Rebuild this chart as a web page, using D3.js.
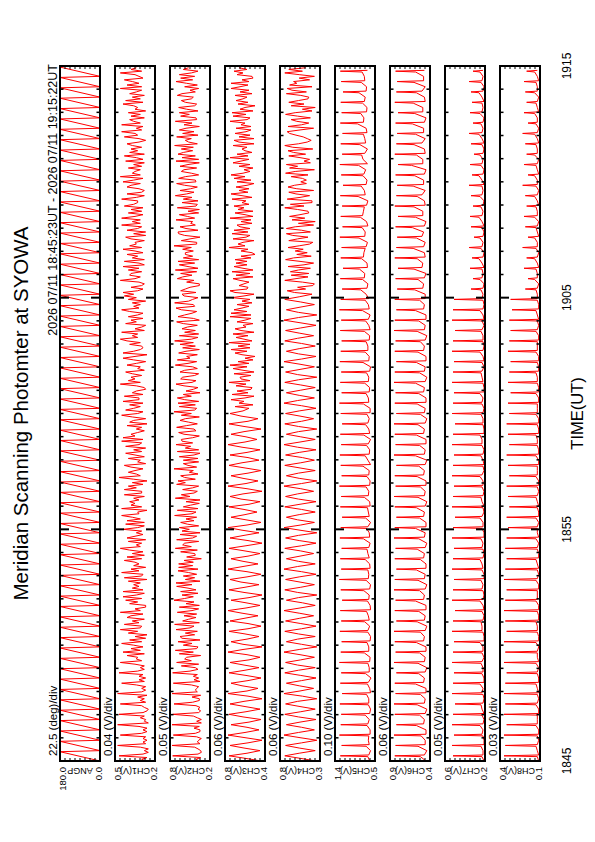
<!DOCTYPE html>
<html><head><meta charset="utf-8">
<script src="https://cdn.jsdelivr.net/npm/d3@7"></script>
<style>body{margin:0;background:#fff}svg{display:block}text{font-family:"Liberation Sans",Arial,sans-serif}</style>
</head><body><svg id="c" width="595" height="842"></svg>
<script>
// ---------- data ----------
const titleText = "Meridian Scanning Photomter at SYOWA";
const rangeText = "2026 07/11 18:45:23UT - 2026 07/11 19:15:22UT";
const timeTickLabels = ["1845", "1855", "1905", "1915"];
const timeTickMinutes = [0, 10, 20, 30];
const panelNames = ["ANGP", "CH1(V)", "CH2(V)", "CH3(V)", "CH4(V)", "CH5(V)", "CH6(V)", "CH7(V)", "CH8(V)"];
const divLabels = ["22.5 (deg)/div", "0.04 (V)/div", "0.05 (V)/div", "0.06 (V)/div", "0.06 (V)/div", "0.10 (V)/div", "0.06 (V)/div", "0.05 (V)/div", "0.03 (V)/div"];
const yTopLabels = ["180.0", "0.5", "0.8", "0.8", "0.8", "1.4", "0.9", "0.6", "0.4"];
const yBottomLabels = ["0.0", "0.2", "0.2", "0.4", "0.3", "0.5", "0.4", "0.2", "0.1"];
const yMax = [180, 0.5, 0.8, 0.8, 0.8, 1.4, 0.9, 0.6, 0.4];
const yMin = [0, 0.2, 0.2, 0.4, 0.3, 0.5, 0.4, 0.2, 0.1];

const scanCount = 67;                        // scans in 30 minutes
const angpScan = [0, 45, 90, 135, 180];      // scan angle samples within one scan (deg), then fly-back
const spikeOffsets = [0, 0.42, 0.5, 0.58];

// one row per scan, samples evenly spaced within the scan
const ch1 = [[0.27,0.30,0.26,0.47,0.29,0.25],[0.28,0.25,0.31,0.48,0.27,0.29],[0.26,0.29,0.27,0.46,0.30,0.26],[0.29,0.26,0.32,0.48,0.25,0.28],[0.27,0.31,0.28,0.47,0.29,0.26],
[0.25,0.28,0.30,0.46,0.27,0.31],[0.28,0.33,0.26,0.48,0.30,0.27],[0.30,0.27,0.34,0.45,0.28,0.32],[0.27,0.32,0.29,0.47,0.33,0.28],[0.31,0.28,0.35,0.46,0.30,0.34],
[0.33,0.41,0.28,0.44,0.31,0.38],[0.29,0.36,0.45,0.30,0.39,0.27],[0.35,0.26,0.40,0.33,0.46,0.31],[0.30,0.43,0.32,0.37,0.28,0.41],[0.38,0.29,0.46,0.31,0.35,0.27],
[0.27,0.39,0.33,0.42,0.30,0.44],[0.34,0.28,0.44,0.29,0.37,0.32],[0.36,0.31,0.40,0.26,0.43,0.30],[0.29,0.45,0.32,0.38,0.27,0.36],[0.32,0.35,0.43,0.30,0.41,0.28],
[0.37,0.29,0.39,0.46,0.31,0.34],[0.30,0.40,0.27,0.41,0.35,0.29],[0.34,0.30,0.44,0.33,0.28,0.42],[0.28,0.41,0.31,0.37,0.45,0.32],[0.33,0.26,0.45,0.30,0.38,0.35],
[0.39,0.32,0.36,0.28,0.43,0.30],[0.30,0.43,0.34,0.40,0.29,0.37],[0.26,0.36,0.47,0.31,0.34,0.40],[0.35,0.29,0.38,0.43,0.27,0.33],[0.31,0.40,0.28,0.35,0.42,0.30],
[0.36,0.27,0.42,0.32,0.30,0.45],[0.29,0.44,0.35,0.38,0.33,0.28],[0.34,0.30,0.41,0.26,0.39,0.36],[0.27,0.37,0.45,0.33,0.29,0.42],[0.36,0.31,0.39,0.29,0.44,0.32],
[0.32,0.43,0.29,0.37,0.34,0.27],[0.28,0.34,0.46,0.31,0.40,0.35],[0.38,0.30,0.37,0.42,0.28,0.33],[0.31,0.41,0.34,0.27,0.36,0.44],[0.35,0.26,0.44,0.36,0.31,0.29],
[0.30,0.39,0.31,0.41,0.46,0.33],[0.37,0.33,0.45,0.28,0.35,0.30],[0.27,0.42,0.34,0.38,0.29,0.40],[0.33,0.29,0.39,0.45,0.32,0.36],[0.31,0.37,0.27,0.40,0.34,0.43],
[0.36,0.44,0.33,0.29,0.38,0.30],[0.28,0.32,0.46,0.35,0.31,0.39],[0.38,0.30,0.40,0.32,0.44,0.28],[0.32,0.43,0.28,0.37,0.33,0.41],[0.29,0.35,0.44,0.30,0.39,0.34],
[0.35,0.28,0.38,0.42,0.27,0.36],[0.27,0.41,0.33,0.30,0.45,0.31],[0.37,0.31,0.45,0.35,0.29,0.40],[0.30,0.38,0.29,0.43,0.36,0.33],[0.33,0.45,0.34,0.28,0.41,0.30],
[0.28,0.32,0.41,0.38,0.31,0.44],[0.36,0.29,0.46,0.31,0.37,0.35],[0.31,0.40,0.30,0.36,0.28,0.42],[0.29,0.34,0.43,0.28,0.39,0.33],[0.38,0.30,0.37,0.41,0.32,0.27],
[0.32,0.43,0.33,0.35,0.45,0.30],[0.34,0.29,0.45,0.31,0.36,0.39],[0.28,0.38,0.31,0.40,0.27,0.35],[0.33,0.36,0.44,0.29,0.42,0.31],[0.37,0.28,0.39,0.34,0.30,0.46],
[0.30,0.41,0.32,0.37,0.43,0.29],[0.32,0.35,0.46,0.30,0.38,0.34]];

const ch2 = [[0.36,0.41,0.34,0.76,0.38,0.33],[0.34,0.38,0.43,0.77,0.35,0.39],[0.37,0.33,0.40,0.75,0.42,0.35],[0.35,0.44,0.36,0.77,0.33,0.40],[0.33,0.39,0.45,0.76,0.37,0.34],
[0.38,0.35,0.41,0.74,0.46,0.36],[0.36,0.47,0.34,0.77,0.39,0.42],[0.40,0.37,0.48,0.75,0.35,0.44],[0.37,0.45,0.39,0.76,0.50,0.38],
[0.42,0.63,0.37,0.70,0.48,0.58],[0.55,0.34,0.66,0.45,0.72,0.40],[0.38,0.60,0.47,0.68,0.35,0.62],[0.65,0.43,0.57,0.39,0.71,0.50],[0.44,0.73,0.36,0.61,0.52,0.41],
[0.59,0.40,0.69,0.47,0.37,0.66],[0.36,0.56,0.44,0.74,0.58,0.45],[0.62,0.38,0.64,0.41,0.53,0.70],[0.47,0.71,0.35,0.57,0.43,0.60],[0.40,0.52,0.68,0.38,0.67,0.46],
[0.67,0.45,0.59,0.33,0.55,0.42],[0.43,0.64,0.39,0.72,0.48,0.61],[0.58,0.37,0.70,0.46,0.40,0.65],[0.35,0.62,0.51,0.66,0.37,0.54],[0.64,0.44,0.56,0.40,0.73,0.47],
[0.41,0.69,0.38,0.60,0.49,0.36],[0.56,0.35,0.72,0.50,0.63,0.44],[0.39,0.61,0.46,0.37,0.70,0.57],[0.68,0.42,0.58,0.64,0.38,0.51],[0.45,0.74,0.40,0.53,0.60,0.37],
[0.60,0.38,0.66,0.44,0.35,0.69],[0.37,0.57,0.49,0.71,0.46,0.62],[0.63,0.46,0.36,0.59,0.67,0.41],[0.44,0.70,0.55,0.39,0.52,0.65],[0.57,0.36,0.63,0.48,0.74,0.43],
[0.40,0.66,0.42,0.68,0.37,0.58],[0.69,0.48,0.60,0.35,0.56,0.45],[0.38,0.59,0.71,0.47,0.41,0.64],[0.61,0.43,0.37,0.65,0.58,0.39],[0.46,0.72,0.53,0.40,0.69,0.50],
[0.55,0.39,0.67,0.56,0.36,0.61],[0.42,0.65,0.45,0.73,0.48,0.38],[0.66,0.37,0.58,0.42,0.62,0.54],[0.39,0.60,0.70,0.36,0.45,0.68],[0.58,0.47,0.40,0.63,0.71,0.43],
[0.45,0.73,0.52,0.46,0.38,0.59],[0.62,0.41,0.64,0.57,0.50,0.36],[0.36,0.55,0.44,0.69,0.61,0.47],[0.64,0.40,0.72,0.38,0.53,0.66],[0.43,0.68,0.37,0.60,0.46,0.57],
[0.57,0.45,0.61,0.48,0.74,0.40],[0.40,0.63,0.50,0.35,0.58,0.67],[0.68,0.38,0.56,0.65,0.42,0.49],[0.46,0.71,0.43,0.54,0.66,0.37],[0.53,0.36,0.69,0.41,0.39,0.62],
[0.38,0.60,0.47,0.72,0.55,0.44],[0.65,0.49,0.39,0.58,0.70,0.41],[0.42,0.67,0.57,0.37,0.48,0.63],[0.59,0.40,0.65,0.53,0.36,0.71],[0.37,0.62,0.42,0.68,0.60,0.46],
[0.63,0.45,0.73,0.39,0.52,0.57],[0.48,0.70,0.38,0.61,0.44,0.66],[0.56,0.36,0.59,0.47,0.72,0.40],[0.41,0.64,0.51,0.66,0.38,0.55],[0.67,0.43,0.40,0.57,0.63,0.48],
[0.45,0.69,0.62,0.42,0.50,0.37],[0.58,0.39,0.55,0.71,0.46,0.64],[0.43,0.66,0.48,0.38,0.60,0.52]];

const ch3 = [[0.44,0.59,0.76,0.58],[0.45,0.61,0.75,0.57],[0.43,0.60,0.77,0.60],[0.46,0.58,0.74,0.56],[0.44,0.62,0.76,0.59],[0.45,0.60,0.75,0.61],[0.43,0.57,0.77,0.58],[0.47,0.63,0.74,0.57],[0.44,0.59,0.76,0.60],[0.46,0.61,0.75,0.56],
[0.45,0.58,0.77,0.62],[0.43,0.62,0.74,0.58],[0.46,0.60,0.76,0.57],[0.44,0.57,0.75,0.61],[0.47,0.63,0.77,0.59],[0.45,0.59,0.74,0.56],[0.43,0.61,0.76,0.60],[0.46,0.64,0.75,0.58],[0.44,0.58,0.77,0.62],[0.47,0.62,0.74,0.57],
[0.45,0.60,0.76,0.59],[0.43,0.57,0.75,0.61],[0.46,0.63,0.77,0.58],[0.44,0.59,0.74,0.60],[0.48,0.61,0.76,0.56],[0.45,0.64,0.75,0.62],[0.43,0.58,0.77,0.59],[0.47,0.62,0.74,0.57],[0.44,0.60,0.76,0.63],[0.46,0.57,0.75,0.58],
[0.45,0.63,0.77,0.60],[0.48,0.59,0.74,0.61],[0.44,0.61,0.76,0.57],[0.47,0.64,0.75,0.62],
[0.56,0.70,0.52,0.66,0.61,0.74],[0.60,0.51,0.73,0.57,0.68,0.54],[0.53,0.69,0.59,0.76,0.55,0.64],[0.65,0.54,0.71,0.51,0.62,0.72],[0.58,0.75,0.56,0.67,0.52,0.60],
[0.50,0.63,0.70,0.58,0.74,0.55],[0.67,0.55,0.76,0.53,0.61,0.69],[0.57,0.72,0.51,0.64,0.70,0.59],[0.62,0.52,0.68,0.60,0.54,0.75],[0.54,0.74,0.58,0.71,0.63,0.56],
[0.68,0.53,0.63,0.55,0.73,0.61],[0.51,0.70,0.75,0.58,0.57,0.66],[0.61,0.56,0.65,0.72,0.52,0.69],[0.55,0.73,0.52,0.62,0.71,0.58],[0.69,0.58,0.70,0.54,0.64,0.50],
[0.53,0.64,0.57,0.76,0.60,0.67],[0.62,0.51,0.72,0.59,0.55,0.73],[0.57,0.71,0.55,0.65,0.68,0.53],[0.64,0.54,0.75,0.52,0.60,0.70],[0.52,0.67,0.61,0.71,0.56,0.63],
[0.59,0.73,0.53,0.63,0.74,0.57],[0.66,0.56,0.69,0.58,0.51,0.68],[0.54,0.71,0.60,0.74,0.62,0.55],[0.61,0.52,0.66,0.55,0.72,0.64],[0.56,0.75,0.57,0.68,0.53,0.60],
[0.63,0.58,0.72,0.51,0.66,0.71],[0.51,0.66,0.55,0.70,0.59,0.54],[0.69,0.54,0.64,0.60,0.75,0.58],[0.55,0.72,0.59,0.73,0.52,0.65],[0.60,0.50,0.67,0.57,0.69,0.62],
[0.58,0.70,0.53,0.65,0.56,0.74],[0.65,0.57,0.74,0.56,0.63,0.52],[0.53,0.68,0.62,0.71,0.58,0.66]];

const ch4 = [[0.35,0.54,0.74,0.56],[0.36,0.56,0.73,0.53],[0.34,0.55,0.75,0.57],[0.37,0.53,0.72,0.55],[0.35,0.57,0.74,0.54],[0.36,0.55,0.73,0.58],[0.34,0.52,0.75,0.55],[0.38,0.56,0.72,0.53],[0.35,0.54,0.74,0.57],[0.36,0.58,0.73,0.54],
[0.37,0.55,0.75,0.56],[0.34,0.53,0.72,0.58],[0.36,0.57,0.74,0.53],[0.35,0.54,0.73,0.56],[0.38,0.56,0.75,0.55],[0.36,0.52,0.72,0.57],[0.34,0.58,0.74,0.54],[0.37,0.55,0.73,0.56],[0.35,0.53,0.75,0.58],[0.36,0.57,0.72,0.55],
[0.38,0.54,0.74,0.53],[0.35,0.56,0.73,0.57],[0.34,0.55,0.75,0.54],[0.37,0.58,0.72,0.56],[0.36,0.53,0.74,0.55],[0.35,0.57,0.73,0.58],[0.38,0.54,0.75,0.53],[0.34,0.56,0.72,0.57],[0.36,0.55,0.74,0.54],[0.37,0.52,0.73,0.56],
[0.35,0.58,0.75,0.55],[0.36,0.54,0.72,0.57],[0.34,0.57,0.74,0.53],[0.38,0.55,0.73,0.56],[0.35,0.53,0.75,0.58],[0.37,0.56,0.72,0.54],[0.36,0.54,0.74,0.57],[0.34,0.58,0.73,0.55],[0.37,0.55,0.75,0.53],[0.35,0.57,0.72,0.56],
[0.36,0.53,0.74,0.58],[0.38,0.56,0.73,0.54],[0.35,0.55,0.75,0.57],[0.34,0.57,0.72,0.55],[0.37,0.54,0.74,0.56],
[0.40,0.62,0.71,0.48,0.58,0.39],[0.37,0.52,0.74,0.60,0.45,0.66],[0.44,0.67,0.57,0.42,0.70,0.50],[0.38,0.55,0.73,0.63,0.41,0.59],[0.46,0.61,0.51,0.70,0.56,0.43],
[0.39,0.69,0.58,0.45,0.64,0.72],[0.42,0.53,0.72,0.61,0.38,0.57],[0.36,0.65,0.49,0.68,0.55,0.44],[0.45,0.58,0.74,0.50,0.67,0.40],[0.40,0.71,0.55,0.43,0.60,0.69],
[0.38,0.59,0.70,0.62,0.47,0.54],[0.47,0.52,0.66,0.45,0.73,0.61],[0.37,0.68,0.58,0.72,0.42,0.50],[0.43,0.55,0.69,0.48,0.63,0.70],[0.39,0.64,0.74,0.57,0.46,0.41],
[0.46,0.51,0.60,0.68,0.71,0.55],[0.38,0.70,0.53,0.44,0.59,0.66],[0.42,0.58,0.73,0.61,0.40,0.52],[0.36,0.66,0.50,0.69,0.57,0.45],[0.44,0.54,0.72,0.47,0.65,0.71],
[0.40,0.68,0.59,0.63,0.43,0.56],[0.37,0.56,0.74,0.52,0.69,0.48]];

// spike channels: [before, rise, peak, after] per scan
const ch5 = [[0.62,0.66,1.28,0.64],[0.60,0.70,1.25,0.63],[0.65,0.64,1.30,0.61],[0.61,0.68,1.27,0.66],[0.63,0.72,1.26,0.62],[0.60,0.65,1.29,0.64],[0.64,0.69,1.24,0.60],[0.62,0.67,1.28,0.65],[0.59,0.71,1.26,0.63],[0.63,0.66,1.30,0.62],
[0.61,0.74,1.27,0.64],[0.64,0.68,1.25,0.61],[0.60,0.66,1.29,0.66],[0.62,0.73,1.26,0.63],[0.65,0.69,1.28,0.60],[0.61,0.67,1.24,0.64],[0.63,0.75,1.27,0.62],[0.60,0.70,1.30,0.65],[0.64,0.66,1.26,0.61],[0.62,0.72,1.28,0.63],
[0.66,0.68,1.25,0.64],[0.61,0.76,1.29,0.62],[0.63,0.69,1.27,0.66],[0.60,0.71,1.24,0.63],[0.65,0.67,1.28,0.61],[0.62,0.74,1.26,0.65],[0.64,0.70,1.30,0.62],[0.61,0.68,1.25,0.64],[0.63,0.77,1.27,0.60],[0.66,0.72,1.29,0.63],
[0.62,0.69,1.26,0.65],[0.60,0.75,1.28,0.62],[0.64,0.71,1.24,0.66],[0.63,0.68,1.27,0.61],[0.61,0.76,1.30,0.64],[0.65,0.70,1.25,0.63],[0.62,0.73,1.28,0.65],[0.64,0.69,1.26,0.62],[0.60,0.77,1.29,0.64],[0.63,0.72,1.27,0.66],
[0.66,0.70,1.25,0.63],[0.62,0.74,1.28,0.61],[0.64,0.71,1.26,0.65],[0.61,0.78,1.30,0.63],[0.65,0.72,1.27,0.64],
[0.70,0.82,1.24,0.68],[0.66,0.78,1.28,0.74],[0.73,0.85,1.22,0.67],[0.68,0.80,1.27,0.76],[0.75,0.72,1.25,0.70],[0.67,0.86,1.29,0.73],[0.72,0.79,1.23,0.66],[0.69,0.83,1.27,0.78],[0.76,0.74,1.24,0.69],[0.66,0.88,1.28,0.72],
[0.74,0.81,1.22,0.70],[0.68,0.77,1.26,0.75],[0.71,0.87,1.29,0.67],[0.77,0.80,1.24,0.73],[0.67,0.84,1.27,0.71],[0.73,0.76,1.23,0.68],[0.70,0.89,1.28,0.76],[0.75,0.82,1.25,0.69],[0.68,0.78,1.27,0.74],[0.72,0.86,1.22,0.70],
[0.69,0.81,1.26,0.73],[0.74,0.79,1.28,0.67]];

const ch6 = [[0.45,0.52,0.84,0.47],[0.44,0.55,0.83,0.46],[0.46,0.51,0.85,0.45],[0.45,0.57,0.82,0.48],[0.47,0.53,0.84,0.46],[0.44,0.56,0.85,0.47],[0.46,0.52,0.83,0.45],[0.45,0.58,0.84,0.48],[0.47,0.54,0.82,0.46],[0.44,0.55,0.85,0.47],
[0.46,0.53,0.83,0.45],[0.45,0.57,0.84,0.48],[0.47,0.52,0.85,0.46],[0.44,0.56,0.82,0.47],[0.46,0.54,0.84,0.45],[0.45,0.58,0.83,0.48],[0.47,0.53,0.85,0.46],[0.44,0.55,0.84,0.47],[0.46,0.57,0.82,0.45],[0.45,0.52,0.84,0.48],
[0.47,0.56,0.83,0.46],[0.44,0.54,0.85,0.47],[0.46,0.58,0.84,0.45],[0.45,0.53,0.82,0.48],[0.47,0.57,0.84,0.46],[0.44,0.55,0.85,0.47],[0.46,0.52,0.83,0.45],[0.45,0.56,0.84,0.48],[0.47,0.54,0.82,0.46],[0.44,0.58,0.85,0.47],
[0.46,0.53,0.83,0.45],[0.45,0.57,0.84,0.48],[0.47,0.55,0.85,0.46],[0.44,0.52,0.82,0.47],[0.46,0.56,0.84,0.45],[0.45,0.54,0.83,0.48],[0.47,0.58,0.85,0.46],[0.44,0.53,0.84,0.47],[0.46,0.57,0.82,0.45],[0.45,0.55,0.84,0.48],
[0.47,0.52,0.83,0.46],[0.44,0.56,0.85,0.47],[0.46,0.54,0.84,0.45],[0.45,0.58,0.82,0.48],[0.47,0.53,0.84,0.46],[0.46,0.59,0.81,0.49],[0.48,0.55,0.83,0.47],[0.45,0.60,0.80,0.50],[0.49,0.56,0.84,0.46],[0.47,0.61,0.82,0.48],
[0.46,0.57,0.81,0.50],[0.48,0.62,0.83,0.47],[0.45,0.58,0.80,0.49],[0.49,0.60,0.84,0.46],[0.47,0.56,0.82,0.50],[0.46,0.61,0.81,0.48],[0.48,0.59,0.83,0.47],[0.45,0.63,0.80,0.49],[0.49,0.57,0.84,0.46],[0.47,0.60,0.82,0.50],
[0.46,0.58,0.81,0.48],[0.48,0.62,0.83,0.47],[0.45,0.59,0.80,0.49],[0.49,0.61,0.84,0.46],[0.47,0.57,0.82,0.50],[0.46,0.60,0.81,0.48],[0.48,0.58,0.83,0.47]];

const ch7 = [[0.21,0.23,0.52,0.22],[0.22,0.24,0.53,0.21],[0.21,0.22,0.51,0.23],[0.22,0.25,0.53,0.22],[0.21,0.23,0.52,0.21],[0.23,0.24,0.50,0.22],[0.21,0.22,0.53,0.23],[0.22,0.25,0.52,0.21],[0.21,0.23,0.51,0.22],[0.22,0.24,0.53,0.23],
[0.21,0.23,0.52,0.22],[0.22,0.25,0.51,0.21],[0.21,0.22,0.53,0.23],[0.23,0.24,0.52,0.22],[0.21,0.23,0.50,0.21],[0.22,0.25,0.53,0.22],[0.21,0.22,0.52,0.23],[0.22,0.24,0.51,0.21],[0.21,0.23,0.53,0.22],[0.23,0.25,0.52,0.22],
[0.21,0.22,0.51,0.23],[0.22,0.24,0.53,0.21],[0.21,0.23,0.52,0.22],[0.22,0.25,0.50,0.23],[0.21,0.22,0.53,0.21],[0.23,0.24,0.52,0.22],[0.21,0.23,0.51,0.22],[0.22,0.25,0.53,0.23],[0.21,0.22,0.52,0.21],[0.22,0.24,0.51,0.22],
[0.21,0.23,0.53,0.23],[0.23,0.25,0.52,0.21],[0.21,0.22,0.50,0.22],[0.22,0.24,0.53,0.22],[0.21,0.23,0.52,0.23],[0.22,0.25,0.51,0.21],[0.21,0.22,0.53,0.22],[0.23,0.24,0.52,0.23],[0.21,0.23,0.51,0.21],[0.22,0.25,0.53,0.22],
[0.21,0.22,0.52,0.22],[0.22,0.24,0.50,0.23],[0.21,0.23,0.53,0.21],[0.22,0.25,0.52,0.22],[0.21,0.22,0.51,0.23],
[0.22,0.24,0.34,0.22],[0.21,0.25,0.32,0.23],[0.22,0.23,0.35,0.21],[0.23,0.26,0.33,0.22],[0.21,0.24,0.36,0.23],[0.22,0.25,0.31,0.22],[0.21,0.23,0.34,0.21],[0.23,0.26,0.35,0.23],[0.22,0.24,0.32,0.22],[0.21,0.25,0.34,0.23],
[0.22,0.23,0.36,0.21],[0.23,0.26,0.33,0.22],[0.21,0.24,0.35,0.23],[0.22,0.25,0.31,0.22],[0.21,0.23,0.34,0.21],[0.23,0.26,0.36,0.23],[0.22,0.24,0.32,0.22],[0.21,0.25,0.35,0.23],[0.22,0.23,0.33,0.21],[0.23,0.26,0.34,0.22],
[0.21,0.24,0.36,0.23],[0.22,0.25,0.32,0.22]];

const ch8 = [[0.11,0.12,0.37,0.11],[0.12,0.13,0.36,0.12],[0.11,0.12,0.37,0.11],[0.11,0.13,0.35,0.12],[0.12,0.12,0.37,0.11],[0.11,0.13,0.36,0.12],[0.11,0.12,0.37,0.11],[0.12,0.13,0.36,0.11],[0.11,0.12,0.35,0.12],[0.11,0.13,0.37,0.11],
[0.12,0.12,0.36,0.12],[0.11,0.13,0.37,0.11],[0.11,0.12,0.35,0.12],[0.12,0.13,0.36,0.11],[0.11,0.12,0.37,0.11],[0.11,0.13,0.36,0.12],[0.12,0.12,0.35,0.11],[0.11,0.13,0.37,0.12],[0.11,0.12,0.36,0.11],[0.12,0.13,0.35,0.11],
[0.11,0.12,0.36,0.12],[0.11,0.13,0.35,0.11],[0.12,0.12,0.34,0.12],[0.11,0.13,0.35,0.11],[0.11,0.12,0.33,0.11],[0.12,0.13,0.34,0.12],[0.11,0.12,0.35,0.11],[0.11,0.13,0.33,0.12],[0.12,0.12,0.34,0.11],[0.11,0.13,0.35,0.11],
[0.11,0.12,0.33,0.12],[0.12,0.13,0.34,0.11],[0.11,0.12,0.35,0.11],[0.11,0.13,0.33,0.12],[0.12,0.12,0.34,0.11],[0.11,0.13,0.32,0.11],[0.11,0.12,0.34,0.12],[0.12,0.13,0.33,0.11],[0.11,0.12,0.32,0.11],[0.11,0.13,0.34,0.12],
[0.12,0.12,0.33,0.11],[0.11,0.13,0.32,0.12],[0.11,0.12,0.33,0.11],[0.12,0.13,0.31,0.11],[0.11,0.12,0.32,0.12],
[0.12,0.13,0.21,0.12],[0.11,0.14,0.19,0.12],[0.12,0.13,0.22,0.11],[0.12,0.14,0.20,0.12],[0.11,0.13,0.23,0.12],[0.12,0.14,0.19,0.11],[0.12,0.13,0.21,0.12],[0.11,0.14,0.22,0.12],[0.12,0.13,0.20,0.11],[0.12,0.14,0.21,0.12],
[0.11,0.13,0.23,0.12],[0.12,0.14,0.19,0.11],[0.12,0.13,0.22,0.12],[0.11,0.14,0.20,0.12],[0.12,0.13,0.21,0.11],[0.12,0.14,0.23,0.12],[0.11,0.13,0.19,0.12],[0.12,0.14,0.22,0.11],[0.12,0.13,0.20,0.12],[0.11,0.14,0.21,0.12],
[0.12,0.13,0.22,0.11],[0.12,0.14,0.20,0.12]];

// ---------- layout (landscape frame, rotated onto the portrait page) ----------
const LW = 842;
const X0 = 81, X1 = 776;         // time axis extent
const panelTop0 = 60, panelStep = 55, panelH = 40;
const svg = d3.select("#c");
const g = svg.append("g").attr("transform", `translate(0,${LW}) rotate(-90)`);

const totalSec = 1800;
const scanSec = totalSec / scanCount;
const x = d3.scaleLinear().domain([0, totalSec]).range([X0, X1]);

function seriesEven(scans, span) {
  const pts = [];
  scans.forEach((s, i) => s.forEach((v, k) => pts.push({ t: (i + span * k / s.length) * scanSec, v })));
  return pts;
}
function seriesSpike(scans) {
  const pts = [];
  scans.forEach((s, i) => s.forEach((v, k) => pts.push({ t: (i + spikeOffsets[k]) * scanSec, v })));
  return pts;
}
const angpScans = d3.range(scanCount).map(() => angpScan);
const series = [
  seriesEven(angpScans, 1.12),
  seriesEven(ch1, 1), seriesEven(ch2, 1), seriesEven(ch3, 1), seriesEven(ch4, 1),
  seriesSpike(ch5), seriesSpike(ch6), seriesSpike(ch7), seriesSpike(ch8)
];

const defs = svg.append("defs");

panelNames.forEach((name, i) => {
  const top = panelTop0 + i * panelStep, bot = top + panelH;
  const y = d3.scaleLinear().domain([yMin[i], yMax[i]]).range([bot, top]);
  const p = g.append("g");
  defs.append("clipPath").attr("id", "clip" + i).append("rect")
    .attr("x", X0).attr("y", top).attr("width", X1 - X0).attr("height", panelH);
  // trace
  p.append("path").datum(series[i])
    .attr("clip-path", `url(#clip${i})`)
    .attr("fill", "none").attr("stroke", "#ff0000").attr("stroke-width", 1)
    .attr("d", d3.line().x(d => x(d.t)).y(d => y(d.v)));
  // time ticks (every minute, major every 10)
  d3.range(1, 30).forEach(m => {
    const major = timeTickMinutes.includes(m);
    const len = major ? 9 : 3.5;
    const xx = x(m * 60);
    p.append("line").attr("x1", xx).attr("x2", xx).attr("y1", top).attr("y2", top + len).attr("stroke", "#000").attr("stroke-width", major ? 2 : 1.5);
    p.append("line").attr("x1", xx).attr("x2", xx).attr("y1", bot).attr("y2", bot - len).attr("stroke", "#000").attr("stroke-width", major ? 2 : 1.5);
  });
  // value ticks (8 divisions)
  d3.range(1, 8).forEach(k => {
    const yy = top + k * panelH / 8;
    p.append("line").attr("x1", X0).attr("x2", X0 + 3).attr("y1", yy).attr("y2", yy).attr("stroke", "#000").attr("stroke-width", 1);
    p.append("line").attr("x1", X1).attr("x2", X1 - 3).attr("y1", yy).attr("y2", yy).attr("stroke", "#000").attr("stroke-width", 1);
  });
  // frame
  p.append("rect").attr("x", X0).attr("y", top).attr("width", X1 - X0).attr("height", panelH)
    .attr("fill", "none").attr("stroke", "#000").attr("stroke-width", 2);
  // per-division label
  p.append("text").attr("x", X0 + 5).attr("y", top - 3).attr("font-size", 11.5).text(divLabels[i]);
  // value labels
  p.append("text").attr("x", X0 - 6).attr("y", top + 2).attr("dominant-baseline", "central")
    .attr("text-anchor", "end").attr("font-size", 9.5).text(yTopLabels[i]);
  p.append("text").attr("x", X0 - 6).attr("y", bot - 2).attr("dominant-baseline", "central")
    .attr("text-anchor", "end").attr("font-size", 9.5).text(yBottomLabels[i]);
  // axis title
  p.append("text").attr("transform", `translate(${X0 - 7},${(top + bot) / 2}) rotate(-90)`)
    .attr("text-anchor", "middle").attr("font-size", 9).text(name);
});

// time tick labels
timeTickMinutes.forEach((m, k) => {
  g.append("text").attr("x", x(m * 60)).attr("y", 571).attr("text-anchor", "middle")
    .attr("font-size", 12).text(timeTickLabels[k]);
});
g.append("text").attr("x", (X0 + X1) / 2).attr("y", 583).attr("text-anchor", "middle")
  .attr("font-size", 16.5).text("TIME(UT)");
g.append("text").attr("x", X1 + 2).attr("y", 57).attr("text-anchor", "end")
  .attr("font-size", 12.5).text(rangeText);
g.append("text").attr("x", (X0 + X1) / 2).attr("y", 28).attr("text-anchor", "middle")
  .attr("font-size", 20.5).text(titleText);
</script></body></html>
